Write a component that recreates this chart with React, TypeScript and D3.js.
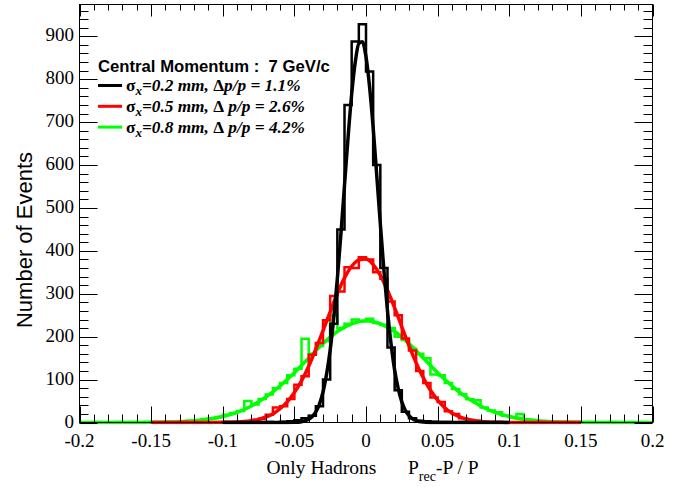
import React from 'react';
import * as d3 from 'd3';

// ---------- data ----------
const BIN_START = -0.2;
const BIN_WIDTH = 0.005;

const xTickValues = [-0.2, -0.15, -0.1, -0.05, 0, 0.05, 0.1, 0.15, 0.2];
const xTickLabels = ['-0.2', '-0.15', '-0.1', '-0.05', '0', '0.05', '0.1', '0.15', '0.2'];
const yTickValues = [0, 100, 200, 300, 400, 500, 600, 700, 800, 900];
const yTickLabels = ['0', '100', '200', '300', '400', '500', '600', '700', '800', '900'];

// sigma_x = 0.2 mm (black), 80 bins of 0.005 from -0.2
const blackHist = [
  0, 0, 0, 0, 0, 0, 0, 0, 0, 0,
  0, 0, 0, 0, 0, 0, 0, 0, 0, 0,
  0, 0, 0, 0, 0, 1, 1, 0, 2, 3,
  5, 10, 16, 38, 100, 230, 450, 740, 888, 928,
  818, 600, 360, 175, 75, 25, 10, 4, 3, 2,
  1, 1, 0, 1, 0, 0, 0, 0, 0, 0,
  0, 0, 0, 0, 0, 0, 0, 0, 0, 0,
  0, 0, 0, 0, 0, 0, 0, 0, 0, 0,
];
// sigma_x = 0.5 mm (red)
const redHist = [
  0, 0, 0, 0, 0, 0, 0, 0, 0, 0,
  0, 0, 0, 0, 1, 0, 0, 0, 0, 0,
  1, 1, 2, 3, 6, 9, 18, 35, 38, 55,
  88, 108, 158, 185, 238, 295, 305, 362, 360, 385,
  380, 350, 335, 282, 250, 196, 168, 120, 92, 58,
  48, 26, 20, 10, 6, 4, 2, 1, 1, 0,
  0, 0, 0, 0, 1, 0, 0, 0, 0, 0,
  0, 0, 0, 0, 0, 0, 0, 0, 0, 0,
];
// sigma_x = 0.8 mm (green)
const greenHist = [
  0, 0, 1, 0, 0, 1, 0, 1, 0, 1,
  1, 1, 2, 2, 3, 4, 5, 8, 10, 13,
  18, 22, 27, 50, 42, 55, 65, 80, 92, 110,
  125, 195, 160, 178, 190, 250, 220, 230, 240, 236,
  242, 232, 228, 220, 200, 192, 172, 160, 150, 112,
  110, 92, 78, 66, 54, 52, 35, 28, 24, 16,
  12, 20, 7, 5, 3, 2, 2, 1, 1, 1,
  0, 1, 0, 0, 1, 0, 0, 0, 0, 0,
];

// fitted curves, sampled
const blackFitX = [-0.1, -0.06, -0.05, -0.045, -0.04, -0.0375, -0.035, -0.0325, -0.03, -0.0275, -0.025, -0.0225, -0.02, -0.0175, -0.015, -0.0125, -0.01, -0.0075, -0.005, -0.0025, 0, 0.0025, 0.005, 0.0075, 0.01, 0.0125, 0.015, 0.0175, 0.02, 0.0225, 0.025, 0.0275, 0.03, 0.0325, 0.035, 0.04, 0.045, 0.05, 0.06, 0.1];
const blackFitY = [0, 0, 0.4, 1.8, 7.4, 14, 25, 43, 71, 113, 169, 244, 335, 440, 553, 665, 765, 840, 883, 887, 852, 782, 687, 576, 463, 355, 260, 183, 122, 79, 48, 28, 16, 8.5, 4.3, 1, 0.2, 0, 0, 0];

const redFitX = [-0.15, -0.14, -0.13, -0.12, -0.11, -0.1, -0.095, -0.09, -0.085, -0.08, -0.075, -0.07, -0.065, -0.06, -0.055, -0.05, -0.045, -0.04, -0.035, -0.03, -0.025, -0.02, -0.015, -0.01, -0.005, 0, 0.005, 0.01, 0.015, 0.02, 0.025, 0.03, 0.035, 0.04, 0.045, 0.05, 0.055, 0.06, 0.065, 0.07, 0.075, 0.08, 0.085, 0.09, 0.095, 0.1, 0.11, 0.12, 0.13, 0.14, 0.15];
const redFitY = [0, 0, 0, 0, 0.1, 0.3, 0.6, 1.2, 2.3, 4.2, 7.4, 12.5, 20, 32, 48, 70, 97, 131, 171, 214, 258, 301, 337, 364, 379, 381, 368, 343, 308, 267, 223, 179, 139, 104, 75, 52, 34.5, 22, 13.8, 8.3, 4.8, 2.6, 1.4, 0.7, 0.35, 0.17, 0, 0, 0, 0, 0];

const greenFitX = [-0.2, -0.19, -0.18, -0.17, -0.16, -0.15, -0.14, -0.13, -0.12, -0.11, -0.1, -0.09, -0.08, -0.07, -0.06, -0.05, -0.04, -0.03, -0.02, -0.01, 0, 0.01, 0.02, 0.03, 0.04, 0.05, 0.06, 0.07, 0.08, 0.09, 0.1, 0.11, 0.12, 0.13, 0.14, 0.15, 0.16, 0.17, 0.18, 0.19, 0.2];
const greenFitY = [0, 0, 0, 0.1, 0.2, 0.4, 0.9, 2, 4, 7.7, 13.9, 23.8, 38.6, 59, 85.5, 116, 150, 184, 212, 230, 237, 230, 212, 184, 150, 116, 85.5, 59, 38.6, 23.8, 13.9, 7.7, 4, 2, 0.9, 0.4, 0.2, 0.1, 0, 0, 0];

const legendTitle = 'Central Momentum :  7 GeV/c';
const legendEntries = [
  { color: '#000000', sig: '0.2', dp: 'Δp/p = 1.1%' },
  { color: '#ff0000', sig: '0.5', dp: 'Δ p/p = 2.6%' },
  { color: '#00ff00', sig: '0.8', dp: 'Δ p/p = 4.2%' },
];

// ---------- layout ----------
const W = 688;
const H = 487;
const X0 = 79.5, X1 = 652.5, Y0 = 422.5, Y1 = 4.5;
const YMAX = 974;

const x = d3.scaleLinear().domain([-0.2, 0.2]).range([X0, X1]);
const y = d3.scaleLinear().domain([0, YMAX]).range([Y0, Y1]);

function histPath(vals: number[], lo: number, hi: number): string {
  const pts: [number, number][] = [];
  for (let i = 0; i < vals.length; i++) {
    const a = BIN_START + i * BIN_WIDTH;
    const b = a + BIN_WIDTH;
    if (a < lo - 1e-9 || b > hi + 1e-9) continue;
    pts.push([a, vals[i]]);
    pts.push([b, vals[i]]);
  }
  return d3.line<[number, number]>().x(d => x(d[0])).y(d => y(d[1]))(pts) || '';
}

function fitPath(xs: number[], ys: number[]): string {
  const pts = xs.map((v, i) => [v, ys[i]] as [number, number]);
  return d3.line<[number, number]>().x(d => x(d[0])).y(d => y(d[1])).curve(d3.curveMonotoneX)(pts) || '';
}

export default function App() {
  const xMinor = x.ticks(40);
  const yMinor = d3.range(0, YMAX, 20);
  const serif = '"Liberation Serif", "Times New Roman", serif';
  const sans = '"Liberation Sans", Arial, sans-serif';

  const series = [
    { hist: greenHist, fx: greenFitX, fy: greenFitY, color: '#00ff00', lo: -0.2, hi: 0.2 },
    { hist: redHist, fx: redFitX, fy: redFitY, color: '#ff0000', lo: -0.15, hi: 0.15 },
    { hist: blackHist, fx: blackFitX, fy: blackFitY, color: '#000000', lo: -0.1, hi: 0.1 },
  ];

  return (
    <svg width={W} height={H} style={{ position: 'absolute', left: 0, top: 0, background: '#fff' }}>
      <defs>
        <clipPath id="plotclip">
          <rect x={X0} y={Y1} width={X1 - X0} height={Y0 - Y1 + 2} />
        </clipPath>
      </defs>
      <rect x={0} y={0} width={W} height={H} fill="#fff" />

      <g clipPath="url(#plotclip)">
        {series.map((s, i) => (
          <g key={i}>
            <path d={histPath(s.hist, s.lo, s.hi)} fill="none" stroke={s.color} strokeWidth={2.5} />
            <path d={fitPath(s.fx, s.fy)} fill="none" stroke={s.color} strokeWidth={3.5} strokeLinejoin="round" />
          </g>
        ))}
      </g>

      {/* frame */}
      <rect x={X0} y={Y1} width={X1 - X0} height={Y0 - Y1} fill="none" stroke="#000" strokeWidth={1} />

      {/* x ticks bottom & top */}
      {xMinor.map((v, i) => {
        const major = xTickValues.some(t => Math.abs(t - v) < 1e-9);
        const xx = Math.round(x(v)) + 0.5;
        return (
          <g key={'xt' + i} stroke="#000" strokeWidth={1}>
            <line x1={xx} x2={xx} y1={Y0} y2={Y0 - (major ? 16 : 8)} />
            <line x1={xx} x2={xx} y1={Y1} y2={Y1 + (major ? 12 : 6)} />
          </g>
        );
      })}
      {/* y ticks left & right */}
      {yMinor.map((v, i) => {
        const major = v % 100 === 0;
        const yy = Math.round(y(v)) + 0.5;
        return (
          <g key={'yt' + i} stroke="#000" strokeWidth={1}>
            <line x1={X0} x2={X0 + (major ? 18 : 9)} y1={yy} y2={yy} />
            <line x1={X1} x2={X1 - (major ? 18 : 9)} y1={yy} y2={yy} />
          </g>
        );
      })}

      {/* tick labels */}
      {xTickValues.map((v, i) => (
        <text key={'xl' + i} x={x(v)} y={446.5} textAnchor="middle" fontFamily={serif} fontSize={19} fill="#000">
          {xTickLabels[i]}
        </text>
      ))}
      {yTickValues.map((v, i) => (
        <text key={'yl' + i} x={74} y={y(v) + 5} textAnchor="end" fontFamily={serif} fontSize={19} fill="#000">
          {yTickLabels[i]}
        </text>
      ))}

      {/* axis titles */}
      <text transform="translate(32,240) rotate(-90)" textAnchor="middle" fontFamily={sans} fontSize={22} fill="#000">
        Number of Events
      </text>
      <text x={266.5} y={474} fontFamily={serif} fontSize={19.5} fill="#000">Only Hadrons</text>
      <text x={408} y={474} fontFamily={serif} fontSize={19.5} fill="#000">
        P<tspan dy={7} fontSize={14}>rec</tspan><tspan dy={-7} fontSize={19.5}>-P / P</tspan>
      </text>

      {/* legend */}
      <text x={98} y={72} fontFamily={sans} fontWeight="bold" fontSize={16.7} fill="#000" style={{ whiteSpace: 'pre' }}>{legendTitle}</text>
      {legendEntries.map((e, i) => {
        const ly = 85.5 + i * 20.8;
        return (
          <g key={'lg' + i}>
            <line x1={98} x2={122} y1={ly} y2={ly} stroke={e.color} strokeWidth={3} />
            <text x={126} y={ly + 5.5} fontFamily={serif} fontWeight="bold" fontSize={17.3} fill="#000">
              <tspan fontStyle="normal">σ</tspan>
              <tspan fontStyle="italic" fontSize={13} dy={4}>x</tspan>
              <tspan fontStyle="italic" dy={-4}>{'=' + e.sig + ' mm, '}</tspan>
              <tspan fontStyle="normal">{e.dp.slice(0, 1)}</tspan>
              <tspan fontStyle="italic">{e.dp.slice(1)}</tspan>
            </text>
          </g>
        );
      })}
    </svg>
  );
}
